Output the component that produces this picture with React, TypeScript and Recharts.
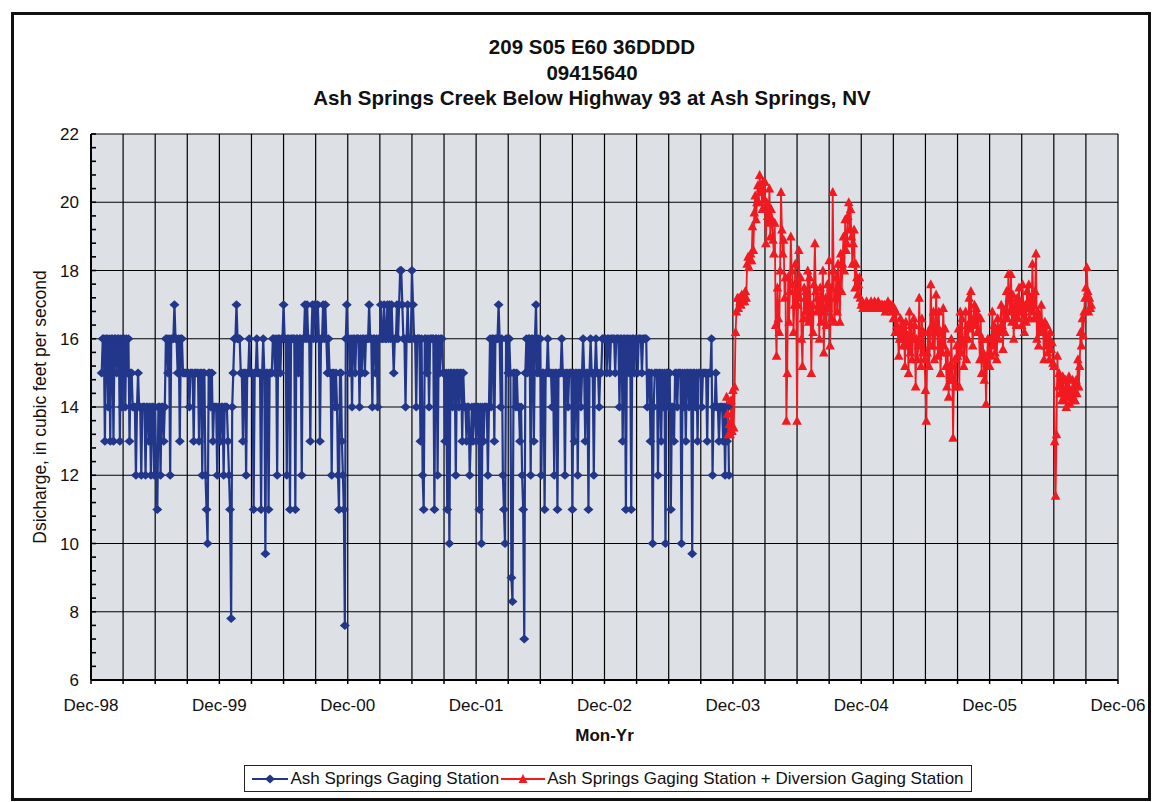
import { LineChart, Line, XAxis, YAxis, CartesianGrid } from 'recharts'

// monthly readings, month 0 = Dec-98; values spread evenly inside each month
const blueFirstMonth = 1
const blueMonthly: (number | null)[][] = [
  [15, 16, 16, 13, 16, 16, 14, 16, 13, 16],
  [16, 13, 16, 16, 15, 16, 16, 13, 16, 14],
  [16, 16, 14, 16, 15, 16, 13, 15, 15, 14],
  [14, 14, 12, 14, 15, 14, 14, 12, 14, 14],
  [14, 12, 14, 14, 13, 14, 12, 14, 14, 12],
  [14, 12, 11, 14, 14, 12, 14, 14, 13, 14],
  [16, 16, 15, 16, 12, 16, 16, 16, 17, 16],
  [16, 15, 16, 13, 16, 16, 15, 15, 15, 15],
  [15, 15, 14, 15, 15, 15, 13, 15, 15, 15],
  [15, 13, 15, 15, 12, 15, 15, 12, 11, 10],
  [15, 15, 14, 15, 13, 14, 14, 14, 12, 14],
  [14, 13, 14, 14, 12, 14, 14, 14, 13, 12],
  [11, 7.8, 14, 15, 16, 16, 17, 16, 16, 16],
  [15, 15, 13, 15, 15, 12, 15, 15, 16, 15],
  [15, 15, 11, 15, 15, 16, 15, 15, 15, 11],
  [15, 16, 15, 9.7, 15, 15, 11, 15, 15, 15],
  [16, 16, 15, 16, 12, 16, 16, 15, 16, 16],
  [17, 16, 16, 12, 16, 16, 11, 16, 16, 16],
  [16, 11, 16, 16, 15, 16, 16, 12, 16, 16],
  [17, 16, 17, 16, 16, 13, 16, 17, 16, 17],
  [17, 16, 17, 16, 13, 16, 16, 17, 16, 17],
  [16, 15, 16, 15, 15, 12, 15, 15, 14, 15],
  [14, 12, 11, 15, 15, 13, 12, 11, 7.6, 16, 17],
  [16, 16, 15, 16, 14, 16, 16, 15, 16, 16],
  [16, 14, 16, 15, 16, 16, 15, 16, 16, 16],
  [17, 16, 16, 14, 16, 16, 15, 16, 14, 16],
  [16, 17, 16, 16, 17, 16, 16, 17, 16, 17],
  [16, 17, 16, 15, 16, 16, 17, 16, 17, 18],
  [18, 17, 16, 16, 14, 16, 17, 16, 16, 16],
  [18, 17, 16, 16, 14, 16, 16, 16, 13, 16],
  [12, 11, 16, 16, 15, 16, 14, 16, 16, 16],
  [16, 11, 16, 16, 12, 16, 15, 16, 16, 15],
  [15, 13, 15, 11, 15, 10, 15, 15, 14, 15],
  [15, 12, 15, 15, 14, 15, 15, 13, 15, 14],
  [14, 13, 14, 14, 12, 13, 14, 13, 14, 14],
  [13, 14, 14, 11, 14, 10, 14, 13, 14, 14],
  [14, 12, 14, 16, 14, 16, 16, 13, 16, 16],
  [16, 17, 16, 14, 16, 12, 11, 10, 16, 16],
  [15, 16, 15, 9, 8.3, 15, 15, 14, 15, 14],
  [14, 13, 14, 12, 11, 7.2, 15, 16, 15, 16],
  [16, 12, 16, 16, 13, 16, 17, 15, 16, 15],
  [16, 12, 15, 15, 11, 15, 15, 16, 15, 15],
  [15, 14, 15, 12, 15, 15, 11, 15, 15, 15],
  [16, 15, 15, 12, 15, 15, 14, 15, 15, 15],
  [11, 15, 13, 15, 15, 12, 15, 15, 14, 15],
  [16, 15, 13, 15, 15, 11, 15, 16, 15, 15],
  [12, 15, 16, 15, 15, 14, 15, 15, 16, 16],
  [16, 16, 15, 16, 16, 15, 16, 16, 16, 16],
  [15, 16, 16, 16, 14, 16, 16, 13, 16, 16],
  [11, 16, 16, 15, 16, 11, 16, 16, 15, 16],
  [16, 15, 16, 16, 16, 15, 16, 16, 16, 16],
  [14, 15, 15, 13, 15, 10, 14, 15, 15, 15],
  [12, 15, 15, 13, 15, 14, 15, 10, 15, 15],
  [14, 15, 11, 14, 14, 13, 15, 15, 14, 15],
  [15, 15, 10, 15, 14, 15, 13, 15, 15, 14],
  [15, 15, 9.7, 15, 15, 14, 15, 13, 15, 15],
  [15, 14, 15, 15, 15, 15, 13, 15, 15, 15],
  [16, 12, 14, 14, 15, 14, 14, 13, 14, 14],
  [14, 13, 14, 12, 14, 13, 14, 12, null, null, null],
]

const redFirstMonth = 59
const redMonthly: (number | null)[][] = [
  [null, null, null, null, null, 14.3, 13.8, 13.2, 13.5, 13.2, 14.2, 13.3],
  [14.5, 13.4, 14.6, 16.2, 16.8, 17.2, 16.9, 17.2, 17.1, 17, 17.3, 17.1],
  [17.2, 17.1, 17.4, 17.2, 18.2, 18.4, 18.1, 18.3, 18.5, 18.3, 19.3, 18.6],
  [19.7, 20.2, 19.5, 20, 20.5, 20, 20.8, 20.4, 20.3, 19.8, 20.6, 20.1],
  [20.6, 18.8, 20, 19.6, 19.4, 20.4, 19, 19.8, 19.5, 18.9, 18.5, 19.4],
  [16.4, 15.5, 17.5, 16.6, 16.2, 18, 20.3, 19.2, 18.5, 18.9, 17.2, 17.8],
  [13.6, 15, 17.8, 16.5, 17.4, 19, 18, 17.6, 16.2, 17, 18.2, 17.4],
  [13.6, 17, 18.6, 17.2, 17.8, 16, 15.2, 16.6, 17.5, 16.8, 17.4, 16.6],
  [18, 16.5, 17.8, 17, 15, 17, 16.2, 17.6, 18.8, 17.4, 16.8, 17.2],
  [17, 16, 17.5, 16.5, 17.2, 18, 15.6, 16.8, 17.2, 16.4, 17.6, 16.9],
  [18.3, 15.8, 17.5, 16.6, 20.3, 18, 16.5, 17.2, 17.8, 16.8, 18.2, 17.4],
  [16.5, 18.5, 17.4, 18.2, 19, 18, 19.5, 18.6, 18.8, 19.6, 20, 19.2],
  [19.8, 19, 18.2, 18.8, 19.2, 17.5, 18.2, 17.8, 17.3, 17.6, 17.8, 17.2],
  [17, 17.1, 16.9, 17, 17, 16.9, 17.1, 17, 17, 16.9, 17, 17.1],
  [17, 16.9, 17, 17.1, 17, 16.9, 17, 17.1, 17, 17, 16.9, 17],
  [17, 16.9, 17, 16.8, 17, 16.9, 17.1, 17, 16.9, 17, 16.8, 17],
  [16.6, 16.9, 16.2, 16.8, 16.4, 16.2, 15.5, 16, 16.6, 16, 16.4, 15.8],
  [16.2, 15.2, 16.5, 15.8, 16.1, 15, 16.8, 15.6, 16.4, 15.4, 16, 16.6],
  [16.4, 14.6, 16, 15.4, 15.8, 17.2, 16, 15.2, 16.6, 15.6, 16.2, 15.4],
  [14.5, 13.6, 15.6, 16.2, 15.2, 15.8, 17.6, 16.4, 15.8, 16.8, 15.4, 16.2],
  [17.3, 16.4, 15.5, 16.8, 15.8, 15, 16.2, 15.6, 16.9, 15.8, 16.3, 15.2],
  [14.6, 15.6, 14.3, 15.2, 14.8, 16, 15.2, 13.1, 14.8, 15.4, 14.6, 15.8],
  [15.5, 16.3, 14.6, 16.8, 15.6, 16.6, 15.9, 15.2, 16, 16.8, 15.4, 16.4],
  [16, 17.2, 16.3, 17.4, 16.5, 15.8, 16.6, 17, 16.4, 16.9, 16.2, 16.7],
  [16.2, 15.4, 16.6, 15, 16, 15.6, 14.8, 15.4, 14.1, 15.3, 16, 15.6],
  [15.2, 16, 15.5, 16.8, 15.8, 16.4, 15.6, 16.2, 15.4, 16.6, 16, 16.3],
  [16.2, 17, 16.4, 15.7, 16.8, 16.2, 16.9, 17.4, 16.6, 17.9, 17.2, 16.8],
  [17.9, 16.5, 17.3, 16, 16.9, 17, 16.4, 17.2, 16.6, 17.5, 16.8, 17.1],
  [16.4, 17.6, 16.8, 16.2, 17, 16.5, 17.4, 16.9, 17.6, 16.6, 17.2, 16.8],
  [18.2, 17, 16.6, 17.4, 18.5, 16, 16.8, 15.8, 16.6, 16.2, 17, 16.4],
  [16.2, 15.4, 16.5, 15.8, 16.4, 15.6, 16, 15.4, 16.2, 15.7, 15.9, 15.3],
  [15.2, 13, 11.4, 13.2, 15.5, 14.6, 15, 14.4, 14.8, 14.2, 14.9, 14.4],
  [14.2, 14.8, 14, 14.6, 14.3, 14.9, 14.1, 14.5, 14.3, 14.8, 14.2, 14.6],
  [14.2, 14.8, 14.4, 15.4, 14.6, 15.2, 16.2, 15.8, 16.6, 16.1, 16.8, 17.2],
  [17.5, 18.1, 17.4, 16.8, 17.2, 16.9, 17, null, null, null, null, null],
]

const xTicks = [0, 3, 6, 9, 12, 15, 18, 21, 24, 27, 30, 33, 36, 39, 42, 45, 48, 51, 54, 57, 60, 63, 66, 69, 72, 75, 78, 81, 84, 87, 90, 93, 96]
const yGrid = [6, 8, 10, 12, 14, 16, 18, 20, 22]
const yMinor = Array.from({ length: 41 }, (_, i) => Math.round((6 + i * 0.4) * 10) / 10)

const titleLines = ['209 S05 E60 36DDDD', '09415640', 'Ash Springs Creek Below Highway 93 at Ash Springs, NV']
const blueName = 'Ash Springs Gaging Station'
const redName = 'Ash Springs Gaging Station + Diversion Gaging Station'

const BLUE = '#22378a'
const RED = '#f01a20'
const FONT = '"Liberation Sans", Arial, sans-serif'

function toPoints(first: number, months: (number | null)[][]) {
  const out: { t: number; v: number }[] = []
  months.forEach((vals, i) => {
    vals.forEach((v, j) => {
      if (v != null) out.push({ t: first + i + j / vals.length, v })
    })
  })
  return out
}

const blueData = toPoints(blueFirstMonth, blueMonthly)
const redData = toPoints(redFirstMonth, redMonthly)

const monthLabel = (m: number) => {
  if (m % 12 !== 0) return ''
  const yy = (98 + m / 12) % 100
  return `Dec-${String(yy).padStart(2, '0')}`
}

const Diamond = (props: any) => {
  const { cx, cy, index } = props
  if (cx == null || cy == null) return <g key={`d${index}`} />
  return <path key={`d${index}`} d={`M${cx},${cy - 4.5}L${cx + 5},${cy}L${cx},${cy + 4.5}L${cx - 5},${cy}Z`} fill={BLUE} />
}

const Triangle = (props: any) => {
  const { cx, cy, index } = props
  if (cx == null || cy == null) return <g key={`r${index}`} />
  return <path key={`r${index}`} d={`M${cx},${cy - 5}L${cx + 4.8},${cy + 4}L${cx - 4.8},${cy + 4}Z`} fill={RED} />
}

const YTick = (props: any) => {
  const { x, y, payload } = props
  const v = payload.value
  const major = Math.abs(v - Math.round(v / 2) * 2) < 1e-6
  return (
    <g>
      <line x1={x + 12} x2={x + 17} y1={y} y2={y} stroke="#000" strokeWidth={1.6} />
      {major && (
        <text x={x} y={y + 6} textAnchor="end" fontSize={17} fontFamily={FONT} fill="#111">{v}</text>
      )}
    </g>
  )
}

const XTick = (props: any) => {
  const { x, y, payload } = props
  const label = monthLabel(payload.value)
  return (
    <g>
      <line x1={x} x2={x} y1={y} y2={y + 4} stroke="#000" strokeWidth={1.5} />
      {label && (
        <text x={x} y={y + 31} textAnchor="middle" fontSize={17} fontFamily={FONT} fill="#111">{label}</text>
      )}
    </g>
  )
}

export default function App() {
  return (
    <div style={{ position: 'fixed', left: 0, top: 0, width: 1161, height: 802, background: '#fff', overflow: 'hidden', fontFamily: FONT }}>
      <div style={{ position: 'absolute', left: 11, top: 12, width: 1140, height: 789, border: '3px solid #111', boxSizing: 'border-box' }} />
      <div style={{ position: 'absolute', left: 0, top: 34, width: 1184, textAlign: 'center', fontWeight: 'bold', fontSize: 20.5, lineHeight: '25.5px', color: '#111' }}>
        {titleLines.map((t) => <div key={t}>{t}</div>)}
      </div>
      <div style={{ position: 'absolute', left: 0, top: 0 }}>
        <LineChart width={1161} height={802} margin={{ top: 134, right: 43, bottom: 58, left: 0 }}>
          <CartesianGrid
            stroke="#000"
            strokeWidth={1.2}
            fill="#dde1e6"
            fillOpacity={1}
            horizontalValues={yGrid}
            verticalValues={xTicks}
          />
          <XAxis
            type="number"
            dataKey="t"
            domain={[0, 96]}
            ticks={xTicks}
            interval={0}
            height={64}
            tickSize={0}
            tickMargin={0}
            tick={<XTick />}
            axisLine={{ stroke: '#000', strokeWidth: 2 }}
            allowDataOverflow
            label={{ value: 'Mon-Yr', position: 'insideBottom', offset: 3, style: { fontWeight: 'bold', fontSize: 17, fontFamily: FONT, fill: '#111' } }}
          />
          <YAxis
            type="number"
            domain={[6, 22]}
            ticks={yMinor}
            interval={0}
            width={91}
            tickSize={0}
            tickMargin={12}
            tick={<YTick />}
            axisLine={{ stroke: '#000', strokeWidth: 2 }}
            allowDataOverflow
            label={{ value: 'Dsicharge, in cubic feet per second', angle: -90, position: 'insideLeft', offset: 40, style: { textAnchor: 'middle', fontSize: 17.5, fontFamily: FONT, fill: '#111' } }}
          />
          <Line data={blueData} dataKey="v" name={blueName} stroke={BLUE} strokeWidth={2.2} dot={Diamond} activeDot={false} isAnimationActive={false} />
          <Line data={redData} dataKey="v" name={redName} stroke={RED} strokeWidth={1.8} dot={Triangle} activeDot={false} isAnimationActive={false} />
        </LineChart>
      </div>
      <div style={{ position: 'absolute', left: 244, top: 765, width: 728, height: 27, border: '1.5px solid #222', boxSizing: 'border-box', display: 'flex', alignItems: 'center', justifyContent: 'center', fontSize: 17, color: '#111', whiteSpace: 'nowrap' }}>
        <svg width={36} height={12} style={{ marginRight: 2 }}>
          <line x1={0} x2={36} y1={6} y2={6} stroke={BLUE} strokeWidth={2} />
          <path d="M18,1.5L23,6L18,10.5L13,6Z" fill={BLUE} />
        </svg>
        <span>{blueName}</span>
        <svg width={44} height={12} style={{ marginLeft: 2, marginRight: 2 }}>
          <line x1={0} x2={44} y1={6} y2={6} stroke={RED} strokeWidth={2} />
          <path d="M22,1L26.5,10L17.5,10Z" fill={RED} />
        </svg>
        <span>{redName}</span>
      </div>
    </div>
  )
}
